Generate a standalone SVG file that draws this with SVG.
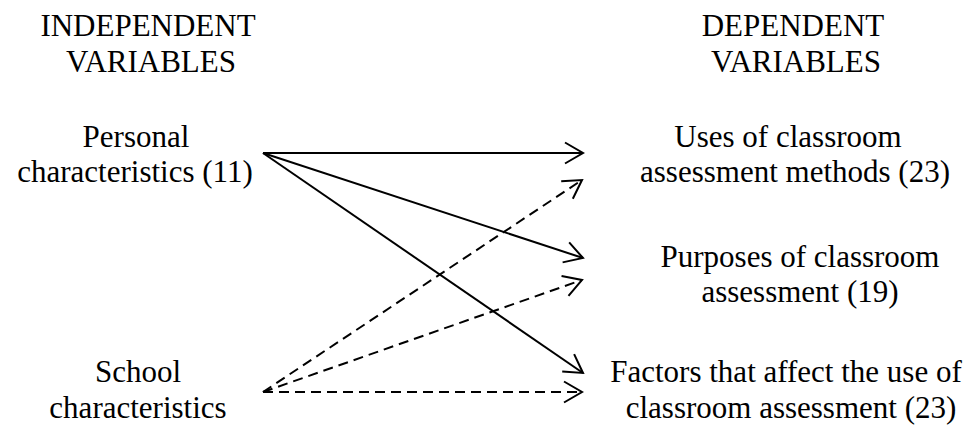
<svg xmlns="http://www.w3.org/2000/svg" width="968" height="426" viewBox="0 0 968 426">
<style>
text{font-family:'Liberation Serif','DejaVu Serif',serif;font-size:31px;fill:#000;text-anchor:middle}
.c{stroke:#000;stroke-width:2;fill:none}
.d{stroke-dasharray:10 6}
</style>
<defs>
<marker id="ah" markerUnits="userSpaceOnUse" markerWidth="30" markerHeight="30" refX="0" refY="0" viewBox="-25 -15 30 30" orient="auto" overflow="visible">
<path d="M-18,-10.5 L0,0 L-18,10.5" fill="none" stroke="#000" stroke-width="2" stroke-dasharray="none"/>
</marker>
</defs>
<rect width="968" height="426" fill="#fff"/>
<g font-family="Liberation Serif, DejaVu Serif, serif">
<g id="header-independent"><text x="148" y="36">INDEPENDENT</text><text x="151" y="72">VARIABLES</text></g>
<g id="header-dependent"><text x="793" y="36">DEPENDENT</text><text x="796" y="72">VARIABLES</text></g>
<g id="personal"><text x="136" y="147">Personal</text><text x="135" y="182">characteristics (11)</text></g>
<g id="school"><text x="138" y="382">School</text><text x="138" y="418">characteristics</text></g>
<g id="uses"><text x="788" y="147">Uses of classroom</text><text x="795" y="182">assessment methods (23)</text></g>
<g id="purposes"><text x="800" y="267">Purposes of classroom</text><text x="800" y="302">assessment (19)</text></g>
<g id="factors"><text x="786" y="382">Factors that affect the use of</text><text x="791" y="418">classroom assessment (23)</text></g>
</g>
<g id="connectors">
<line class="c" x1="263" y1="153" x2="583" y2="153" marker-end="url(#ah)"/>
<line class="c" x1="263" y1="153" x2="583" y2="258" marker-end="url(#ah)"/>
<line class="c" x1="263" y1="153" x2="583" y2="373" marker-end="url(#ah)"/>
<line class="c d" x1="263" y1="392" x2="582" y2="180" marker-end="url(#ah)"/>
<line class="c d" x1="263" y1="392" x2="582" y2="280" marker-end="url(#ah)"/>
<line class="c d" x1="263" y1="392" x2="582" y2="392" marker-end="url(#ah)"/>
</g>
</svg>
